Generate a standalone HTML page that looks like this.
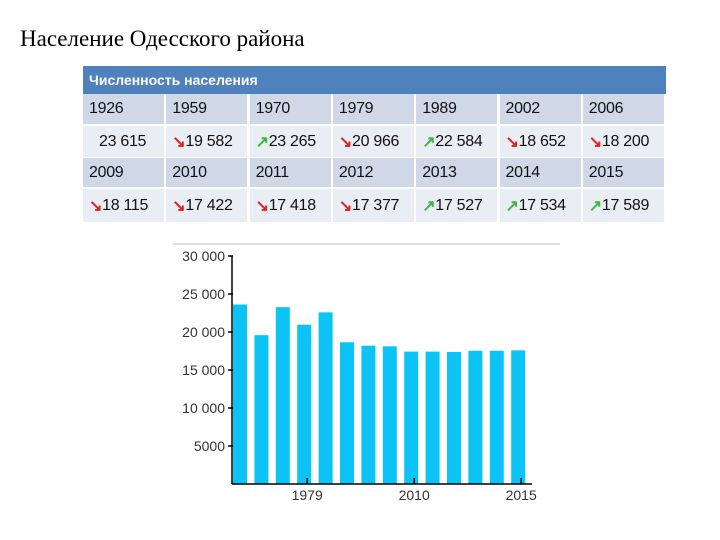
<!DOCTYPE html>
<html><head><meta charset="utf-8"><style>
body{margin:0;width:720px;height:540px;background:#fff;position:relative;overflow:hidden;font-family:"Liberation Sans",sans-serif}
.t{position:absolute;left:20px;top:26px;font:23px "Liberation Serif",serif;color:#000}
.c{position:absolute;box-sizing:border-box;font:16px "Liberation Sans",sans-serif;color:#111;padding-left:6px;display:flex;align-items:center;white-space:nowrap;letter-spacing:-0.3px}
.y{background:#d0d8e8}.v{background:#e9edf4}
.dn{color:#e0201a;font-weight:bold}.up{color:#3cb83c;font-weight:bold}
</style></head><body>
<div class="t">Население Одесского района</div>
<div style="position:absolute;left:83px;top:66px;width:583px;height:28px;background:#4f81bd;color:#fff;font:bold 14px 'Liberation Sans',sans-serif;line-height:28px;padding-left:6px;box-sizing:border-box">Численность населения</div>
<div id="tbl"></div>
<svg id="ch" width="720" height="540" style="position:absolute;left:0;top:0"></svg>
<script>
const years=["1926","1959","1970","1979","1989","2002","2006","2009","2010","2011","2012","2013","2014","2015"];
const values=[23615,19582,23265,20966,22584,18652,18200,18115,17422,17418,17377,17527,17534,17589];
const yTicks=[5000,10000,15000,20000,25000,30000];
const tickLabels=["5000","10 000","15 000","20 000","25 000","30 000"];
const xTickIdx=[3,8,13];
function fmt(v){return v>=10000?String(v).replace(/(\d+)(\d{3})$/,'$1 $2'):String(v);}
const tbl=document.getElementById('tbl');
for(let i=0;i<14;i++){
  const r=Math.floor(i/7),col=i%7,x=83+col*83.3;
  const yc=document.createElement('div');yc.className='c y';
  
  
  yc.style.cssText=`left:${x}px;top:${r?158:94}px;width:81px;height:${r?29:30}px`;
  yc.textContent=years[i];tbl.appendChild(yc);
  const vc=document.createElement('div');vc.className='c v';
  
  
  vc.style.cssText=`left:${x}px;top:${r?189:126}px;width:81px;height:${r?33:31}px`;
  let arrow='';
  if(i>0){arrow=values[i]<values[i-1]?'<span class="dn">↘</span>':'<span class="up">↗</span>';}
  else vc.style.paddingLeft='16px';
  vc.innerHTML=arrow+fmt(values[i]);tbl.appendChild(vc);
}
const svg=document.getElementById('ch'),NS='http://www.w3.org/2000/svg';
const y0=484,yMax=30000,ph=228,x0=232,step=21.4,bw=14;
const Y=v=>y0-v/yMax*ph, X=i=>x0+1+i*step;
function el(t,a,name){const e=document.createElementNS(NS,t);for(const k in a)e.setAttribute(k,a[k]);svg.appendChild(e);return e;}
el('line',{x1:173,y1:244,x2:560,y2:244,stroke:'#bbb','stroke-width':1},'top-rule');
values.forEach((v,i)=>{
  const b=document.createElementNS(NS,'rect');
  b.setAttribute('x',X(i));b.setAttribute('y',Y(v));b.setAttribute('width',bw);b.setAttribute('height',y0-Y(v));b.setAttribute('fill','#0bc4f5');
  
  
  svg.appendChild(b);
});
el('line',{x1:232,y1:256,x2:232,y2:484,stroke:'#000','stroke-width':1.5},'y-axis');
el('line',{x1:232,y1:484,x2:532,y2:484,stroke:'#000','stroke-width':1.5},'x-axis');
yTicks.forEach((t,i)=>{
  el('line',{x1:228,y1:Y(t),x2:233,y2:Y(t),stroke:'#000','stroke-width':1.5},'y-tick');
  const tx=el('text',{x:225,y:Y(t)+5,'text-anchor':'end','font-size':14,fill:'#333','font-family':'Liberation Sans, sans-serif'},'y-tick-label');tx.textContent=tickLabels[i];
});
xTickIdx.forEach(i=>{
  const cx=X(i)+bw/2+3;
  el('line',{x1:cx,y1:478,x2:cx,y2:484,stroke:'#000','stroke-width':1.5},'x-tick');
  const tx=el('text',{x:cx,y:500,'text-anchor':'middle','font-size':14,fill:'#333','font-family':'Liberation Sans, sans-serif'},'x-tick-label');tx.textContent=years[i];
});
</script>
</body></html>
